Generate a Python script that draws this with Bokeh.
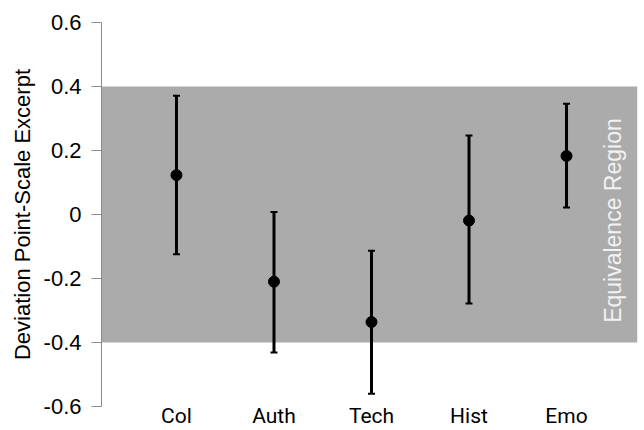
from bokeh.plotting import figure
from bokeh.models import Range1d, FixedTicker, Whisker, ColumnDataSource, BoxAnnotation, Label, TeeHead
from bokeh.embed import file_html
from bokeh.resources import INLINE
import math

categories = ["Col", "Auth", "Tech", "Hist", "Emo"]
means = [0.123, -0.210, -0.336, -0.019, 0.183]
upper = [0.371, 0.008, -0.113, 0.247, 0.346]
lower = [-0.124, -0.431, -0.560, -0.278, 0.022]
equiv_low, equiv_high = -0.4, 0.4
y_ticks = [-0.6, -0.4, -0.2, 0, 0.2, 0.4, 0.6]
y_tick_labels = ["-0.6", "-0.4", "-0.2", "0", "0.2", "0.4", "0.6"]

xs = list(range(1, len(categories) + 1))
src = ColumnDataSource(dict(x=xs, m=means, up=upper, lo=lower))

p = figure(width=644, height=430, output_backend="svg", toolbar_location=None,
           x_range=Range1d(0.231, 5.728), y_range=Range1d(-0.6, 0.6),
           min_border_left=101, min_border_right=7, min_border_top=22, min_border_bottom=0)
p.outline_line_color = None
p.grid.visible = False
p.background_fill_color = "white"

band = BoxAnnotation(bottom=equiv_low, top=equiv_high, fill_color="#ABABAB", fill_alpha=1.0,
                     line_color=None, level="underlay")
p.add_layout(band)

wh = Whisker(source=src, base="x", upper="up", lower="lo", line_color="black", line_width=3,
             upper_head=TeeHead(size=7, line_color="black", line_width=2),
             lower_head=TeeHead(size=7, line_color="black", line_width=2))
p.add_layout(wh)
p.scatter(x="x", y="m", source=src, size=11, color="black")

lab = Label(x=5.48, y=-0.019, text="Equivalence Region", angle=math.pi / 2,
            text_align="center", text_baseline="middle", text_color="#F2F2F2",
            text_font="Liberation Sans", text_font_size="23px")
p.add_layout(lab)

# y axis
ya = p.yaxis[0]
ya.ticker = FixedTicker(ticks=y_ticks)
ya.major_label_overrides = {t: s for t, s in zip(y_ticks, y_tick_labels)}
ya.axis_line_color = "#8C8C8C"
ya.major_tick_line_color = "#8C8C8C"
ya.major_tick_out = 10
ya.major_tick_in = 0
ya.minor_tick_line_color = None
ya.major_label_text_font = "Liberation Sans"
ya.major_label_text_font_size = "22px"
ya.major_label_text_color = "black"
ya.major_label_standoff = 10
ya.axis_label = "Deviation Point-Scale Excerpt"
ya.axis_label_text_font = "Liberation Sans"
ya.axis_label_text_font_size = "22px"
ya.axis_label_text_font_style = "normal"
ya.axis_label_text_color = "black"
ya.axis_label_standoff = 6

# x axis
xa = p.xaxis[0]
xa.ticker = FixedTicker(ticks=xs)
xa.major_label_overrides = {x: c for x, c in zip(xs, categories)}
xa.axis_line_color = None
xa.major_tick_line_color = None
xa.major_tick_out = 0
xa.major_tick_in = 0
xa.minor_tick_line_color = None
xa.major_label_text_font = "Roboto"
xa.major_label_text_font_size = "21px"
xa.major_label_text_color = "black"
xa.major_label_standoff = -3

open("out.html", "w").write(file_html(p, INLINE))
